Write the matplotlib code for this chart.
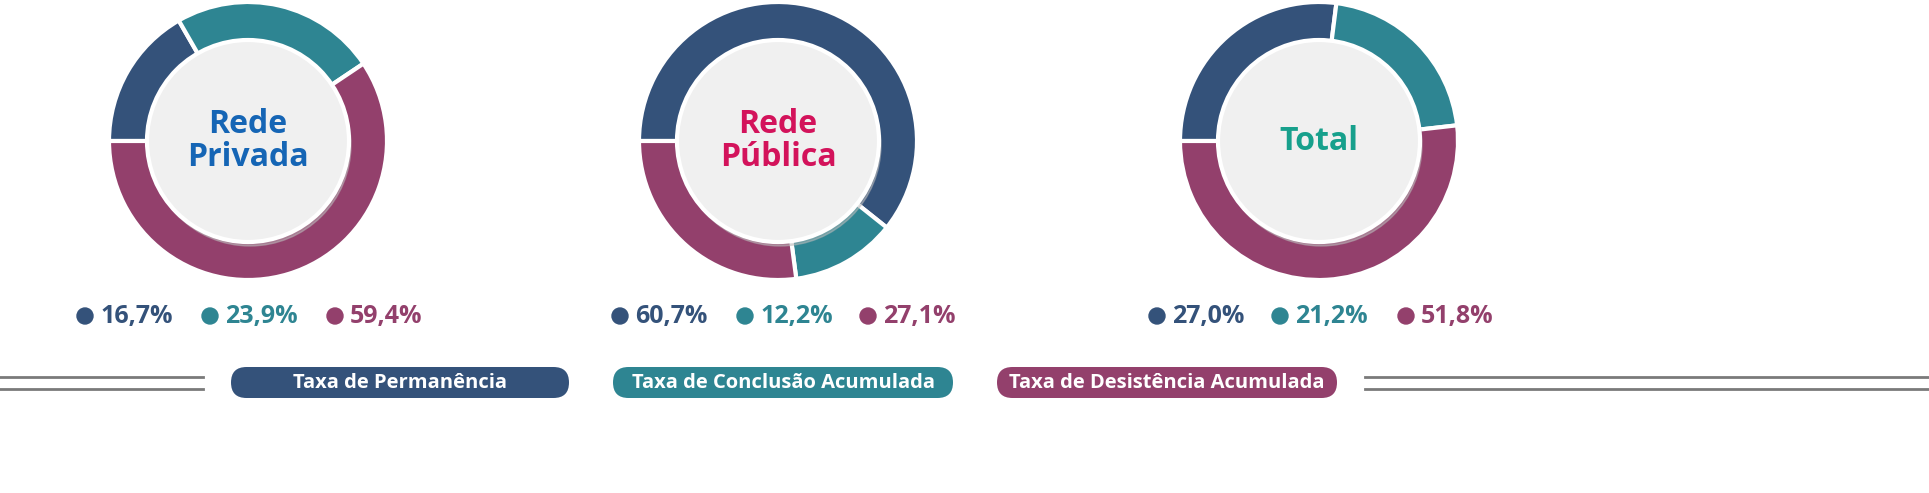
import matplotlib
matplotlib.use("Agg")
import matplotlib.pyplot as plt
from matplotlib.patches import Circle, FancyBboxPatch

W, H = 1929, 493
titles = ["Rede\nPrivada", "Rede\nPública", "Total"]
title_colors = ["#1565b5", "#d3135b", "#17a08c"]
permanencia = [16.7, 60.7, 27.0]
conclusao = [23.9, 12.2, 21.2]
desistencia = [59.4, 27.1, 51.8]
legend_labels = ["Taxa de Permanência", "Taxa de Conclusão Acumulada", "Taxa de Desistência Acumulada"]
colors = ["#34527a", "#2e8592", "#93406c"]

plt.rcParams['font.family'] = ['Open Sans', 'DejaVu Sans']
fig = plt.figure(figsize=(W/100, H/100), dpi=100)
ax = fig.add_axes([0, 0, 1, 1])

centers = [(248, 141), (778, 141), (1319, 141)]
R_out, R_in = 139, 101
dotx = [[85, 210, 335], [620, 745, 868], [1157, 1280, 1406]]
for i, (cx, cy) in enumerate(centers):
    y = H - cy
    vals = [permanencia[i], conclusao[i], desistencia[i]]
    ax.pie(vals, colors=colors, center=(cx, y), radius=R_out, startangle=180,
           counterclock=False, wedgeprops=dict(width=R_out - R_in + 2, edgecolor='white', linewidth=3))
    ax.add_patch(Circle((cx + 2, y - 4), R_in, color='#bbbbbb', alpha=0.5, zorder=3))
    ax.add_patch(Circle((cx, y), R_in, facecolor='#f0f0f0', edgecolor='white', linewidth=3, zorder=4))
    ax.text(cx, y, titles[i], ha='center', va='center', fontsize=23, fontweight='bold',
            color=title_colors[i], linespacing=1.0, zorder=5)
    for j, v in enumerate(vals):
        dx = dotx[i][j]
        ax.add_patch(Circle((dx, H - 316), 8, color=colors[j], zorder=5))
        ax.text(dx + 15, H - 316, f"{v:.1f}%".replace('.', ','), ha='left', va='center',
                fontsize=18, fontweight='bold', color=colors[j])

pills = [(215, 585), (597, 969), (981, 1353)]
for (x0, x1), lab, c in zip(pills, legend_labels, colors):
    ax.add_patch(FancyBboxPatch((x0 + 16, H - 399 + 1), x1 - x0 - 32, 31, boxstyle="round,pad=0,rounding_size=15.5",
                                facecolor=c, edgecolor='none', mutation_aspect=1))
    ax.text((x0 + x1) / 2, H - 383, lab, ha='center', va='center', fontsize=14.5,
            fontweight='bold', color='white')
for yy in (377, 389):
    ax.plot([0, 203], [H - yy, H - yy], color='#7a7a7a', lw=2)
    ax.plot([1365, W], [H - yy, H - yy], color='#7a7a7a', lw=2)

ax.set_xlim(0, W)
ax.set_ylim(0, H)
ax.set_aspect('auto')
ax.axis('off')
fig.savefig("out.png", dpi=100, facecolor='white')
